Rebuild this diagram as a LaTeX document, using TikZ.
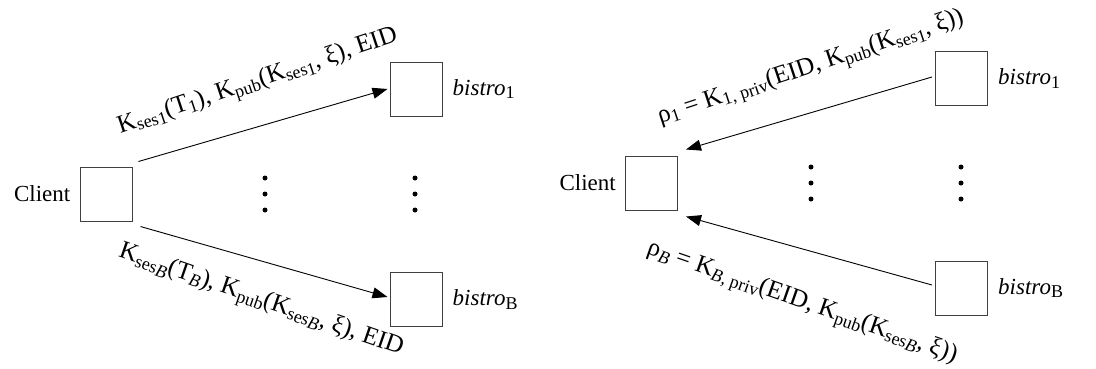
\documentclass[tikz,border=0pt]{standalone}
\usepackage{fontspec}
\setmainfont{Liberation Serif}
\usetikzlibrary{arrows.meta}
\newcommand{\sbs}[1]{\raisebox{-0.14em}{\fontsize{18}{20}\selectfont #1}}
\newcommand{\ssb}[1]{\raisebox{-0.1em}{#1}}
\begin{document}
\begin{tikzpicture}[x=1pt,y=-1pt,
  every node/.style={font=\fontsize{23}{27}\selectfont},
  big/.style={font=\fontsize{25.3}{29}\selectfont},
  sq/.style={draw=black!75,line width=1pt,minimum width=52pt,minimum height=54pt,inner sep=0pt},
  arr/.style={line width=0.9pt,-{Triangle[length=15pt,width=11pt]}},
  lbl/.style={inner sep=0pt,big},
  dot/.style={circle,fill=black,inner sep=0pt,minimum size=5pt}]
\useasboundingbox (0,0) rectangle (1096,368);
% left panel
\node[sq] (cl) at (106,194) {};
\node[sq] (b1) at (416,89) {};
\node[sq] (bB) at (416,299.5) {};
\node[anchor=east,inner sep=0pt] (clt) at ([xshift=-9pt]cl.west) {Client};
\node[anchor=west,inner sep=0pt] (b1t) at ([xshift=10pt]b1.east) {\textit{bistro}\sbs{1}};
\node[anchor=west,inner sep=0pt] (bBt) at ([xshift=10pt]bB.east) {\textit{bistro}\sbs{B}};
\draw[arr] ([shift={(6pt,5pt)}]cl.north east) -- ([shift={(-2pt,0pt)}]b1.west);
\draw[arr] ([shift={(8pt,-5pt)}]cl.south east) -- ([shift={(-2pt,2.5pt)}]bB.west);
\node[lbl,rotate=18.4] (l1) at (258,82) {K\sbs{ses\ssb{1}}(T\sbs{1}), K\sbs{pub}(K\sbs{ses\ssb{1}}, ξ), EID};
\node[lbl,rotate=-19.1] (lB) at (261,301) {K\sbs{ses\ssb{\textit{B}}}(T\sbs{\textit{B}}), K\sbs{pub}(K\sbs{ses\ssb{\textit{B}}}, ξ), EID};
\foreach \x/\n in {265/a,415/b}{
  \node[dot] (d\n1) at (\x,178) {};
  \node[dot] (d\n2) at (\x,194) {};
  \node[dot] (d\n3) at (\x,210) {};
}
% right panel
\node[sq] (cr) at (651.5,183) {};
\node[sq] (r1) at (961.5,78.5) {};
\node[sq] (rB) at (961.5,288) {};
\node[anchor=east,inner sep=0pt] (crt) at ([xshift=-9pt]cr.west) {Client};
\node[anchor=west,inner sep=0pt] (r1t) at ([xshift=10pt]r1.east) {\textit{bistro}\sbs{1}};
\node[anchor=west,inner sep=0pt] (rBt) at ([xshift=10pt]rB.east) {\textit{bistro}\sbs{B}};
\draw[arr] ([shift={(-3pt,1.5pt)}]r1.west) -- ([shift={(8pt,6pt)}]cr.north east);
\draw[arr] ([shift={(-3pt,3pt)}]rB.west) -- ([shift={(8pt,-6pt)}]cr.south east);
\node[lbl,rotate=18.3] (r1l) at (811,68) {ρ\sbs{1} = K\sbs{1, priv}(EID, K\sbs{pub}(K\sbs{ses\ssb{1}}, ξ))};
\node[lbl,rotate=-19.3] (rBl) at (802,303) {ρ\sbs{\textit{B}} = K\sbs{\textit{B}, priv}(EID, K\sbs{pub}(K\sbs{ses\ssb{\textit{B}}}, ξ))};
\foreach \x/\n in {811/c,961/d}{
  \node[dot] (d\n1) at (\x,167) {};
  \node[dot] (d\n2) at (\x,183) {};
  \node[dot] (d\n3) at (\x,199) {};
}
\end{tikzpicture}
\end{document}
